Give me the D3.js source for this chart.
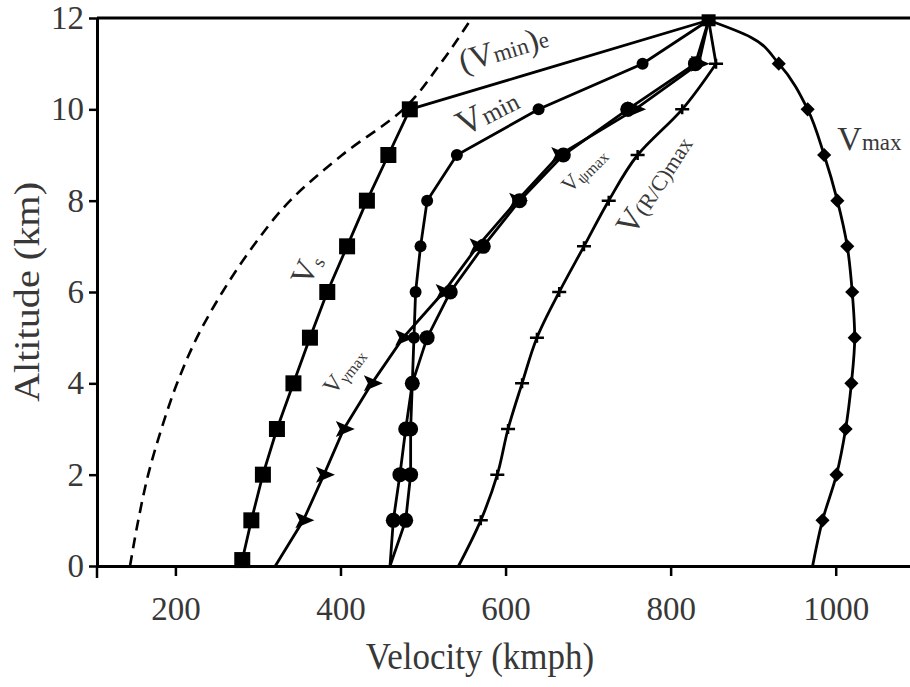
<!DOCTYPE html>
<html>
<head>
<meta charset="utf-8">
<title>Altitude vs velocity</title>
<script src="https://cdn.jsdelivr.net/npm/d3@7/dist/d3.min.js"></script>
<style>
  body { margin: 0; background: #fff; }
  text { font-family: "Liberation Serif", "Times New Roman", serif; fill: #383838; }
</style>
</head>
<body>
<svg id="svg"></svg>
<script>
// altitude (km) at which every series is sampled; last one is the common apex
var altitudes = [0, 1, 2, 3, 4, 5, 6, 7, 8, 9, 10, 11, 11.95];

// V_s (squares) stops at 10 km
var vsAltitudes = [0.13, 1, 2, 3, 4, 5, 6, 7, 8, 9, 10];
var vsVelocity  = [281, 292, 306, 323, 343, 363, 384, 408, 432, 458, 484];

// (V_min)e from the top of V_s to the apex
var vmineAltitudes = [10, 10.72, 11.95];
var vmineVelocity  = [484, 618, 846];

var vminVelocity   = [460, 464, 472, 479, 487, 489, 491, 497, 505, 541, 640, 766, 846];
var vpsiVelocity   = [460, 479, 485, 485, 487, 505, 533, 573, 617, 670, 748, 830, 846];
var vgammaVelocity = [321, 355, 380, 404, 438, 476, 525, 566, 614, 665, 757, 834, 846];
var vrcVelocity    = [543, 570, 590, 603, 620, 638, 665, 695, 725, 760, 814, 855, 846];

// V_max has one extra reading on the arc just below the apex
var vmaxAltitudes = [0, 1, 2, 3, 4, 5, 6, 7, 8, 9, 10, 11, 11.58, 11.95];
var vmaxVelocity  = [972, 984, 1001, 1012, 1019, 1023, 1020, 1014, 1002, 986, 966, 931, 897, 846];

// dashed boundary
var dashAltitudes = [0, 1, 2, 3, 4, 5, 6, 7, 8, 9, 10, 11, 12];
var dashVelocity  = [145, 155, 167, 183, 202, 226, 257, 294, 339, 402, 476, 521, 559];

var xTicks = [200, 400, 600, 800, 1000];
var yTicks = [0, 2, 4, 6, 8, 10, 12];

var width = 910, height = 687;

var svg = d3.select("#svg")
    .attr("width", width)
    .attr("height", height);

var x = d3.scaleLinear().domain([105, 1090]).range([97, 910]);
var y = d3.scaleLinear().domain([0, 12]).range([566, 18]);

function pairs(vel, alt) {
    return vel.map(function(v, i) { return [v, alt[i]]; });
}

// axes
var axisX = d3.axisBottom(x).tickValues(xTicks).tickFormat(d3.format("d"))
    .tickSize(10).tickSizeOuter(0).tickPadding(21);
var gx = svg.append("g")
    .attr("transform", "translate(0," + y(0) + ")")
    .call(axisX);
gx.select(".domain").attr("stroke-width", 3);
gx.selectAll(".tick line").attr("stroke-width", 2.5);
gx.selectAll(".tick text").attr("font-size", 33)
    .style("font-family", "'Liberation Serif', serif");

var axisY = d3.axisLeft(y).tickValues(yTicks).tickSize(8).tickSizeOuter(0).tickPadding(5);
var gy = svg.append("g")
    .attr("transform", "translate(" + x(105) + ",0)")
    .call(axisY);
gy.select(".domain").attr("stroke-width", 3);
gy.selectAll(".tick line").attr("stroke-width", 2.5);
gy.selectAll(".tick text").attr("font-size", 33)
    .style("font-family", "'Liberation Serif', serif");

// y axis runs a little below the x axis, and a line closes the top at 12 km
svg.append("line")
    .attr("x1", x(105)).attr("x2", x(105))
    .attr("y1", y(0)).attr("y2", y(0) + 12)
    .attr("stroke", "#000").attr("stroke-width", 2.5);
svg.append("line")
    .attr("x1", x(105)).attr("x2", width)
    .attr("y1", y(12)).attr("y2", y(12))
    .attr("stroke", "#000").attr("stroke-width", 3);

// axis titles
svg.append("text")
    .attr("transform", "translate(480,669)scale(1,1.08)")
    .attr("text-anchor", "middle")
    .attr("font-size", 35)
    .text("Velocity (kmph)");
svg.append("text")
    .attr("transform", "translate(39," + y(6) + ")rotate(-90)scale(1.15,1)")
    .attr("text-anchor", "middle")
    .attr("font-size", 35)
    .text("Altitude (km)");

// lines
var straight = d3.line().x(function(d) { return x(d[0]); }).y(function(d) { return y(d[1]); });
var smooth = d3.line().curve(d3.curveMonotoneY)
    .x(function(d) { return x(d[0]); }).y(function(d) { return y(d[1]); });

var vs = pairs(vsVelocity, vsAltitudes);
var vmine = pairs(vmineVelocity, vmineAltitudes);
var vmin = pairs(vminVelocity, altitudes);
var vpsi = pairs(vpsiVelocity, altitudes);
var vgamma = pairs(vgammaVelocity, altitudes);
var vrc = pairs(vrcVelocity, altitudes);
var vmax = pairs(vmaxVelocity, vmaxAltitudes);
var dash = pairs(dashVelocity, dashAltitudes);

var lineG = svg.append("g").attr("fill", "none").attr("stroke", "#000").attr("stroke-width", 2.8);
lineG.append("path").attr("d", smooth(dash)).attr("stroke-dasharray", "11,7").attr("stroke-width", 2.6);
lineG.append("path").attr("d", straight(vs));
lineG.append("path").attr("d", smooth(vmine));
lineG.append("path").attr("d", straight(vmin));
lineG.append("path").attr("d", straight(vpsi));
lineG.append("path").attr("d", straight(vgamma));
// R/C is smooth up to 11 km, then a straight run into the apex
lineG.append("path").attr("d", smooth(vrc.slice(0, -1)) + straight(vrc.slice(-2)));
lineG.append("path").attr("d", smooth(vmax));

// markers (skip the ground point and the apex)
function inner(d) { return d.slice(1, d.length - 1); }

var markG = svg.append("g");

markG.selectAll(".sq").data(vs).enter().append("rect")
    .attr("x", function(d) { return x(d[0]) - 8; })
    .attr("y", function(d) { return y(d[1]) - 8; })
    .attr("width", 16).attr("height", 16).attr("fill", "#000");

// blob where everything meets
markG.append("rect")
    .attr("x", x(vmine[2][0]) - 7).attr("y", y(vmine[2][1]) - 6)
    .attr("width", 14).attr("height", 12).attr("fill", "#000");

markG.selectAll(".cpsi").data(inner(vpsi)).enter().append("circle")
    .attr("cx", function(d) { return x(d[0]); })
    .attr("cy", function(d) { return y(d[1]); })
    .attr("r", 7.5).attr("fill", "#000");

markG.selectAll(".cmin").data(inner(vmin)).enter().append("circle")
    .attr("cx", function(d) { return x(d[0]); })
    .attr("cy", function(d) { return y(d[1]); })
    .attr("r", function(d) { return d[1] < 4 ? 7.5 : 6; })
    .attr("fill", "#000");

markG.selectAll(".tri").data(inner(vgamma)).enter().append("path")
    .attr("transform", function(d) { return "translate(" + x(d[0]) + "," + y(d[1]) + ")"; })
    .attr("d", "M-8,-8L11,0L-8,8L-4,0Z")
    .attr("fill", "#000");

markG.selectAll(".crs").data(inner(vrc)).enter().append("path")
    .attr("transform", function(d) { return "translate(" + x(d[0]) + "," + y(d[1]) + ")"; })
    .attr("d", "M-7,0H7M0,-5V5")
    .attr("stroke", "#000").attr("stroke-width", 2.5);

// diamonds only at whole kilometres
markG.selectAll(".dia").data(inner(vmax).filter(function(d) { return d[1] % 1 === 0; }))
  .enter().append("path")
    .attr("transform", function(d) { return "translate(" + x(d[0]) + "," + y(d[1]) + ")rotate(45)"; })
    .attr("d", "M-5,-5H5V5H-5Z")
    .attr("fill", "#000");

// curve labels
function label(vel, alt, angle) {
    return svg.append("text")
        .attr("transform", "translate(" + x(vel) + "," + y(alt) + ")rotate(" + angle + ")");
}

var t = label(548, 10.8, -17).attr("font-size", 33);
t.append("tspan").text("(V");
t.append("tspan").attr("font-size", 23).text("min");
t.append("tspan").text(")");
t.append("tspan").attr("font-size", 23).text("e");

t = label(549, 9.4, -27).attr("font-size", 36);
t.append("tspan").text("V");
t.append("tspan").attr("font-size", 25).text("min");

t = label(678, 8.15, -45).attr("font-size", 22);
t.append("tspan").text("V");
t.append("tspan").attr("font-size", 16).attr("dy", 3).text("ψmax");

t = label(754, 7.2, -57).attr("font-size", 33);
t.append("tspan").text("V");
t.append("tspan").attr("font-size", 22).text("(R/C)max");

t = label(1002, 9.1, 0).attr("font-size", 34);
t.append("tspan").text("V");
t.append("tspan").attr("font-size", 23).text("max");

t = label(362, 6.1, -65).attr("font-size", 32);
t.append("tspan").text("V");
t.append("tspan").attr("font-size", 19).attr("dy", 4).text("s");

t = label(392, 3.72, -52).attr("font-size", 24);
t.append("tspan").text("V");
t.append("tspan").attr("font-size", 16).attr("dy", 3).text("γmax");
</script>
</body>
</html>
